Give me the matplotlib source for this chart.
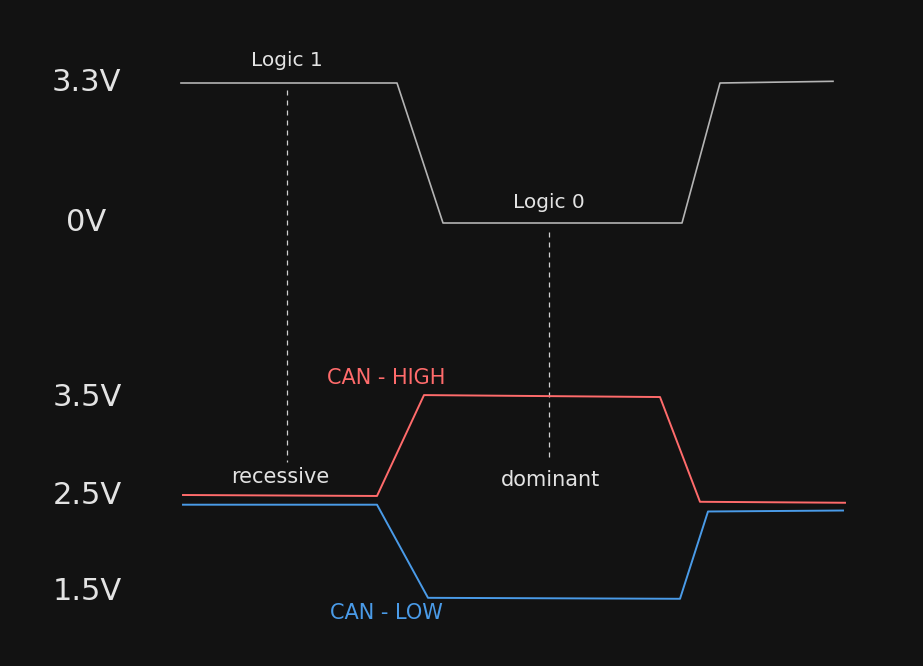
"""
CAN bus signal levels: logic input vs. CAN-HIGH / CAN-LOW differential lines.
Sketch-style diagram on a dark background.
"""

import matplotlib
matplotlib.use("Agg")
import matplotlib.pyplot as plt

# ---- data (time in arbitrary units, voltages in V) ----
logic_t = [181, 397, 443, 682, 720, 833]
logic_v = [3.3, 3.3, 0.0, 0.0, 3.3, 3.34]

canh_t = [183, 377, 424, 660, 700, 845]
canh_v = [2.5, 2.49, 3.53, 3.51, 2.43, 2.42]

canl_t = [183, 377, 428, 680, 708, 843]
canl_v = [2.4, 2.4, 1.44, 1.43, 2.33, 2.34]

logic_levels = [3.3, 0.0]
logic_level_labels = ["3.3V", "0V"]
can_levels = [3.5, 2.5, 1.5]
can_level_labels = ["3.5V", "2.5V", "1.5V"]

# sample points marked with dashed guides: (time, label)
logic_marks = [(287, "Logic 1"), (549, "Logic 0")]
state_marks = [(280, "recessive"), (550, "dominant")]

# colours
BG = "#121212"
FG = "#e3e3e3"
LOGIC_COLOR = "#b4b4b4"
HIGH_COLOR = "#ff6b6b"
LOW_COLOR = "#4a9be8"

W, H = 923, 666
plt.rcParams["font.family"] = ["DejaVu Sans"]

fig = plt.figure(figsize=(W / 100, H / 100), dpi=100, facecolor=BG)

# annotation layer in pixel coordinates
ax_bg = fig.add_axes([0, 0, 1, 1])
ax_bg.set_xlim(0, W)
ax_bg.set_ylim(H, 0)
ax_bg.set_facecolor(BG)
ax_bg.axis("off")

# logic axis: 3.3V at y=83px, 0V at y=223px
ax_logic = fig.add_axes([0, (H - 223) / H, 1, 140 / H])
ax_logic.set_xlim(0, W)
ax_logic.set_ylim(0, 3.3)
ax_logic.axis("off")

# CAN axis: 3.5V at y=398px, 1.5V at y=592px
ax_can = fig.add_axes([0, (H - 592) / H, 1, 194 / H])
ax_can.set_xlim(0, W)
ax_can.set_ylim(1.5, 3.5)
ax_can.axis("off")

# ---- signals ----
ax_logic.plot(logic_t, logic_v, color=LOGIC_COLOR, lw=1.2, clip_on=False,
              solid_joinstyle="round")
ax_can.plot(canh_t, canh_v, color=HIGH_COLOR, lw=1.4, clip_on=False)
ax_can.plot(canl_t, canl_v, color=LOW_COLOR, lw=1.4, clip_on=False)

# ---- voltage labels ----
for v, lab in zip(logic_levels, logic_level_labels):
    ax_logic.text(86, v, lab, color=FG, fontsize=22, ha="center", va="center",
                  clip_on=False)
for v, lab in zip(can_levels, can_level_labels):
    ax_can.text(87, v, lab, color=FG, fontsize=22, ha="center", va="center",
                clip_on=False)

# ---- dashed guides from logic level down to bus state ----
ax_bg.plot([287, 287], [90, 462], color="#cfcfcf", lw=0.9, ls=(0, (4, 4)))
ax_bg.plot([549, 549], [232, 458], color="#cfcfcf", lw=0.9, ls=(0, (4, 4)))

ax_bg.text(logic_marks[0][0], 61, logic_marks[0][1], color=FG, fontsize=14.5,
           ha="center", va="center")
ax_bg.text(logic_marks[1][0], 203, logic_marks[1][1], color=FG, fontsize=14.5,
           ha="center", va="center")
ax_bg.text(state_marks[0][0], 477, state_marks[0][1], color=FG, fontsize=15,
           ha="center", va="center")
ax_bg.text(state_marks[1][0], 480, state_marks[1][1], color=FG, fontsize=15,
           ha="center", va="center")

ax_bg.text(386, 378, "CAN - HIGH", color=HIGH_COLOR, fontsize=15,
           ha="center", va="center")
ax_bg.text(386, 613, "CAN - LOW", color=LOW_COLOR, fontsize=15,
           ha="center", va="center")

fig.savefig("out.png", dpi=100, facecolor=BG)
plt.close(fig)
